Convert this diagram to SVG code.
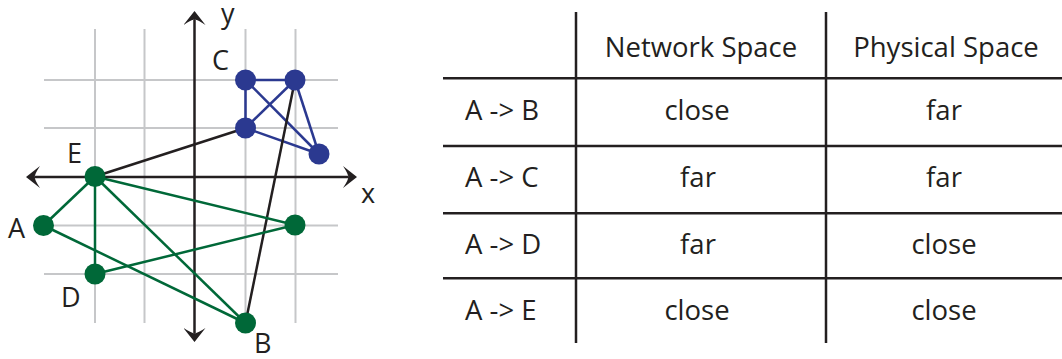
<svg xmlns="http://www.w3.org/2000/svg" width="1062" height="359" viewBox="0 0 1062 359">
<style>
  text { font-family: "Open Sans", "Noto Sans", "Liberation Sans", sans-serif; fill: #231f20; font-size: 27.5px; }
  .lbl { font-size: 27px; }
  .mid { text-anchor: middle; }
  .grid { stroke: #c6c7c9; stroke-width: 2; fill: none; }
  .axis { stroke: #231f20; stroke-width: 2.5; fill: none; }
  .tbl { stroke: #231f20; stroke-width: 2.5; fill: none; }
  .eb { stroke: #2b3990; stroke-width: 2.5; fill: none; }
  .eg { stroke: #006838; stroke-width: 2.5; fill: none; }
  .ek { stroke: #231f20; stroke-width: 2.5; fill: none; }
  .nb { fill: #2b3990; }
  .ng { fill: #006838; }
</style>
<defs>
  <marker id="arr" viewBox="0 -11 14 22" markerWidth="14" markerHeight="22" refX="5" refY="0" markerUnits="userSpaceOnUse" orient="auto-start-reverse">
    <path d="M14,0 L0,-11 Q6,-2 5,0 Q6,2 0,11 Z" fill="#231f20"/>
  </marker>
</defs>

<g id="grid">
  <line class="grid" x1="95" y1="29" x2="95" y2="323"/>
  <line class="grid" x1="144.5" y1="29" x2="144.5" y2="323"/>
  <line class="grid" x1="245.5" y1="29" x2="245.5" y2="323"/>
  <line class="grid" x1="295.5" y1="29" x2="295.5" y2="323"/>
  <line class="grid" x1="44" y1="80" x2="338" y2="80"/>
  <line class="grid" x1="44" y1="128" x2="338" y2="128"/>
  <line class="grid" x1="44" y1="225.5" x2="338" y2="225.5"/>
  <line class="grid" x1="44" y1="274" x2="338" y2="274"/>
</g>

<g id="axes">
  <line class="axis" x1="35" y1="177" x2="348" y2="177" marker-start="url(#arr)" marker-end="url(#arr)"/>
  <line class="axis" x1="194.5" y1="20" x2="194.5" y2="333" marker-start="url(#arr)" marker-end="url(#arr)"/>
  <text class="lbl" x="221" y="23">y</text>
  <text class="lbl" x="361" y="203">x</text>
</g>

<g id="connectors">
  <line class="eb" x1="245.5" y1="80" x2="295" y2="80"/>
  <line class="eb" x1="245.5" y1="80" x2="245.5" y2="128"/>
  <line class="eb" x1="245.5" y1="80" x2="319" y2="154"/>
  <line class="eb" x1="295" y1="80" x2="245.5" y2="128"/>
  <line class="eb" x1="295" y1="80" x2="319" y2="154"/>
  <line class="eb" x1="245.5" y1="128" x2="319" y2="154"/>
  <line class="ek" x1="95" y1="176.5" x2="245.5" y2="128"/>
  <line class="ek" x1="245.5" y1="323" x2="295" y2="80"/>
  <line class="eg" x1="95" y1="176.5" x2="43.5" y2="225.5"/>
  <line class="eg" x1="95" y1="176.5" x2="95" y2="274"/>
  <line class="eg" x1="95" y1="176.5" x2="245.5" y2="323"/>
  <line class="eg" x1="95" y1="176.5" x2="295" y2="225"/>
  <line class="eg" x1="43.5" y1="225.5" x2="245.5" y2="323"/>
  <line class="eg" x1="95" y1="274" x2="295" y2="225"/>
</g>

<g id="node-C">
  <circle class="nb" cx="245.5" cy="80" r="10.5"/>
  <text class="lbl" x="212" y="70">C</text>
</g>
<g id="node-C2"><circle class="nb" cx="295" cy="80" r="10.5"/></g>
<g id="node-C3"><circle class="nb" cx="245.5" cy="128" r="10.5"/></g>
<g id="node-C4"><circle class="nb" cx="319" cy="154" r="10.5"/></g>
<g id="node-E">
  <circle class="ng" cx="95" cy="176.5" r="10.5"/>
  <text class="lbl" x="67" y="163">E</text>
</g>
<g id="node-A">
  <circle class="ng" cx="43.5" cy="225.5" r="10.5"/>
  <text class="lbl" x="8" y="238">A</text>
</g>
<g id="node-R"><circle class="ng" cx="295" cy="225" r="10.5"/></g>
<g id="node-D">
  <circle class="ng" cx="95" cy="274" r="10.5"/>
  <text class="lbl" x="61" y="307">D</text>
</g>
<g id="node-B">
  <circle class="ng" cx="245.5" cy="323" r="10.5"/>
  <text class="lbl" x="254" y="353">B</text>
</g>

<g id="table">
  <line class="tbl" x1="576" y1="12" x2="576" y2="343"/>
  <line class="tbl" x1="826" y1="12" x2="826" y2="343"/>
  <line class="tbl" x1="443" y1="78.3" x2="1062" y2="78.3"/>
  <line class="tbl" x1="443" y1="146" x2="1062" y2="146"/>
  <line class="tbl" x1="443" y1="213.3" x2="1062" y2="213.3"/>
  <line class="tbl" x1="443" y1="278.3" x2="1062" y2="278.3"/>
  <text class="mid" x="701" y="57">Network Space</text>
  <text class="mid" x="946" y="57">Physical Space</text>
  <text x="465" y="120">A -&gt; B</text>
  <text x="465" y="187">A -&gt; C</text>
  <text x="465" y="254">A -&gt; D</text>
  <text x="465" y="320">A -&gt; E</text>
  <text class="mid" x="697" y="120">close</text>
  <text class="mid" x="944" y="120">far</text>
  <text class="mid" x="698" y="187">far</text>
  <text class="mid" x="944" y="187">far</text>
  <text class="mid" x="698" y="254">far</text>
  <text class="mid" x="944" y="254">close</text>
  <text class="mid" x="697" y="320">close</text>
  <text class="mid" x="944" y="320">close</text>
</g>
</svg>
